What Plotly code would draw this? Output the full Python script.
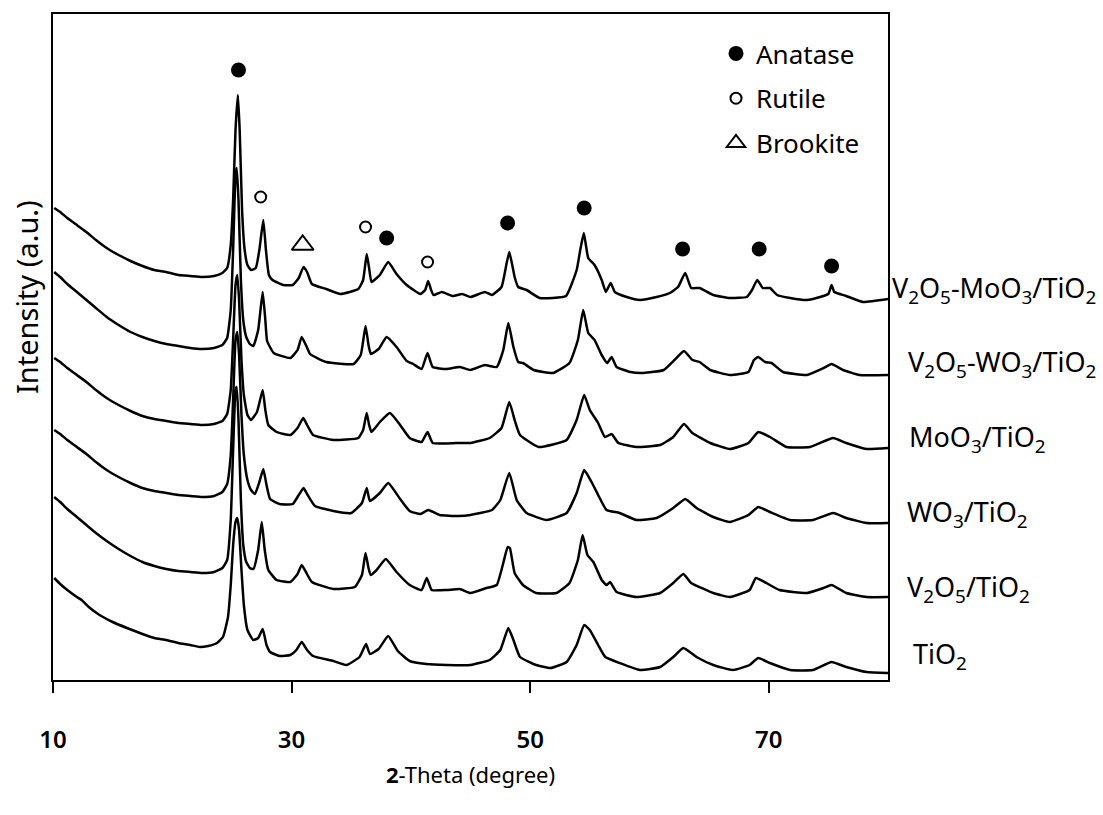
import plotly.graph_objects as go

# ---- data: (2-theta in degrees, stacked intensity a.u.) ----
v2o5_moo3_points = [
    (10.1, 472), (10.6, 468), (11.2, 462), (12.0, 455), (12.8, 448), (13.6, 440), (14.5, 432),
    (15.5, 425), (16.5, 419), (17.5, 414), (18.5, 410), (19.5, 408), (20.5, 405), (21.5, 404),
    (22.5, 403), (23.5, 404), (24.2, 407), (24.6, 412), (24.9, 435), (25.1, 480), (25.3, 550),
    (25.5, 585), (25.65, 550), (25.85, 470), (26.05, 432), (26.3, 415), (26.6, 410), (27.0, 412),
    (27.3, 430), (27.63, 460), (27.85, 430), (28.1, 405), (28.4, 400), (29.3, 395), (30.1, 395),
    (30.6, 402), (31.0, 413), (31.3, 408), (31.7, 396), (32.9, 391), (34.1, 386), (35.6, 391),
    (36.0, 400), (36.3, 426), (36.5, 412), (36.7, 398), (37.4, 405), (38.1, 418), (38.8, 406),
    (39.65, 395), (40.8, 386), (41.2, 390), (41.45, 399), (41.7, 390), (41.9, 385), (42.6, 388),
    (43.5, 384), (44.3, 386), (45.0, 383), (46.2, 388), (46.8, 385), (47.6, 393), (48.0, 415),
    (48.25, 428), (48.5, 415), (48.7, 403), (49.0, 393), (49.7, 390), (50.8, 382), (53.0, 384),
    (53.9, 410), (54.2, 430), (54.5, 447), (54.87, 422), (55.4, 415), (56.0, 400), (56.35, 388),
    (56.75, 397), (57.1, 388), (58.1, 383), (59.2, 380), (60.6, 383), (61.7, 387), (62.4, 393),
    (63.0, 407), (63.5, 392), (64.2, 392), (65.35, 385), (66.75, 382), (68.15, 383), (68.6, 390),
    (69.04, 400), (69.5, 392), (70.1, 392), (70.7, 385), (71.8, 382), (73.2, 380), (74.3, 383),
    (75.0, 386), (75.27, 395), (75.5, 388), (76.5, 384), (77.9, 378), (80.0, 381),
]

v2o5_wo3_points = [
    (10.1, 408), (10.6, 403), (11.2, 396), (12.0, 388), (12.8, 380), (13.6, 372), (14.5, 363),
    (15.5, 355), (16.5, 348), (17.5, 343), (18.5, 339), (19.5, 336), (20.5, 334), (21.5, 332),
    (22.5, 331), (23.5, 332), (24.2, 335), (24.6, 342), (24.9, 370), (25.1, 430), (25.3, 505),
    (25.4, 512), (25.55, 480), (25.75, 400), (25.95, 360), (26.2, 343), (26.5, 336), (26.8, 334),
    (27.2, 350), (27.58, 388), (27.8, 360), (27.95, 339), (28.5, 327), (29.9, 322), (30.5, 330),
    (30.85, 343), (31.2, 335), (31.55, 326), (32.9, 318), (35.2, 316), (35.8, 325), (36.2, 354),
    (36.45, 335), (36.65, 326), (37.3, 331), (37.97, 343), (38.8, 333), (39.65, 319), (40.2, 316),
    (40.9, 311), (41.4, 327), (41.83, 313), (43.0, 311), (44.1, 313), (45.0, 310), (46.2, 315),
    (47.2, 313), (47.75, 330), (48.17, 357), (48.6, 333), (49.0, 318), (49.4, 317), (50.3, 310),
    (51.9, 307), (53.3, 317), (54.0, 340), (54.45, 370), (54.87, 347), (55.4, 340), (56.0, 325),
    (56.46, 317), (56.83, 323), (57.25, 313), (58.4, 308), (59.5, 307), (61.2, 310), (62.1, 320),
    (62.9, 329), (63.6, 320), (64.2, 318), (65.1, 310), (66.75, 305), (68.3, 308), (68.76, 320),
    (69.12, 323), (69.7, 318), (70.24, 317), (71.2, 308), (73.2, 305), (74.6, 312), (75.27, 316),
    (76.24, 310), (77.6, 305), (80.0, 305),
]

moo3_points = [
    (10.1, 322), (10.6, 318), (11.2, 312), (12.0, 305), (12.8, 298), (13.6, 290), (14.5, 282),
    (15.5, 275), (16.5, 269), (17.5, 264), (18.5, 261), (19.5, 259), (20.5, 257), (21.5, 256),
    (22.5, 255), (23.5, 256), (24.2, 259), (24.6, 266), (24.9, 290), (25.1, 340), (25.3, 395),
    (25.45, 405), (25.6, 380), (25.8, 320), (26.0, 285), (26.3, 265), (26.6, 260), (27.1, 268),
    (27.58, 290), (27.8, 270), (28.05, 255), (28.75, 248), (29.9, 245), (30.5, 252), (30.98, 262),
    (31.3, 255), (31.8, 245), (33.5, 240), (35.6, 242), (36.0, 250), (36.3, 267), (36.5, 255),
    (36.7, 248), (37.4, 258), (38.25, 267), (39.1, 255), (39.9, 242), (40.9, 238), (41.4, 248),
    (41.83, 237), (43.8, 237), (45.0, 237), (46.6, 242), (47.6, 252), (48.25, 278), (48.7, 260),
    (49.15, 245), (50.7, 233), (53.06, 240), (53.9, 260), (54.53, 285), (55.0, 270), (55.7, 257),
    (56.27, 243), (56.83, 246), (57.4, 237), (58.9, 233), (60.9, 235), (62.0, 243), (62.9, 256),
    (63.6, 247), (65.1, 237), (66.75, 231), (68.3, 237), (69.12, 248), (70.1, 243), (71.5, 233),
    (73.45, 233), (75.4, 242), (76.5, 237), (78.2, 231), (80.0, 232),
]

wo3_points = [
    (10.1, 250), (10.6, 246), (11.2, 240), (12.0, 233), (12.8, 226), (13.6, 218), (14.5, 210),
    (15.5, 203), (16.5, 197), (17.5, 192), (18.5, 189), (19.5, 187), (20.5, 185), (21.5, 184),
    (22.5, 183), (23.5, 184), (24.2, 188), (24.6, 196), (24.9, 225), (25.1, 280), (25.3, 340),
    (25.45, 348), (25.6, 325), (25.8, 265), (26.0, 225), (26.3, 200), (26.6, 190), (26.93, 186),
    (27.3, 198), (27.63, 211), (27.9, 195), (28.2, 181), (29.0, 176), (30.1, 176), (30.6, 185),
    (31.0, 192), (31.3, 186), (31.96, 174), (33.5, 169), (35.0, 167), (35.9, 177), (36.3, 192),
    (36.57, 179), (37.4, 187), (38.1, 197), (39.1, 181), (39.9, 169), (40.8, 166), (41.46, 170),
    (42.4, 165), (44.0, 164), (45.0, 165), (46.8, 170), (47.5, 180), (48.25, 207), (48.87, 180),
    (49.7, 167), (51.4, 160), (53.06, 167), (53.9, 187), (54.53, 210), (55.15, 198), (55.7, 185),
    (56.4, 170), (57.5, 167), (58.9, 160), (60.6, 162), (62.0, 172), (63.0, 181), (63.95, 172),
    (65.35, 163), (66.75, 158), (68.3, 165), (69.12, 173), (70.1, 168), (71.8, 160), (73.7, 160),
    (75.4, 167), (76.5, 162), (78.2, 157), (80.0, 157),
]

v2o5_points = [
    (10.1, 183), (10.6, 178), (11.2, 171), (12.0, 163), (12.8, 155), (13.6, 147), (14.5, 139),
    (15.5, 131), (16.5, 124), (17.5, 118), (18.5, 114), (19.5, 111), (20.5, 109), (21.5, 108),
    (22.5, 107), (23.5, 108), (24.2, 112), (24.6, 120), (24.9, 160), (25.1, 230), (25.3, 290),
    (25.4, 293), (25.55, 260), (25.75, 180), (25.95, 135), (26.2, 118), (26.5, 112), (26.8, 111),
    (27.2, 130), (27.5, 158), (27.75, 130), (28.05, 110), (28.75, 100), (29.9, 98), (30.5, 106),
    (30.85, 115), (31.2, 108), (31.7, 98), (33.5, 91), (35.3, 93), (35.9, 105), (36.2, 127),
    (36.45, 112), (36.63, 105), (37.13, 110), (37.9, 121), (38.8, 108), (39.9, 95), (40.9, 90),
    (41.33, 102), (41.75, 90), (43.0, 90), (44.1, 91), (45.0, 87), (46.35, 92), (47.2, 95),
    (47.75, 117), (48.11, 133), (48.3, 132), (48.7, 107), (49.4, 95), (50.5, 87), (52.2, 87),
    (53.3, 97), (54.0, 120), (54.4, 145), (54.8, 125), (55.3, 118), (56.0, 100), (56.4, 95),
    (56.7, 98), (57.25, 88), (58.9, 83), (60.9, 87), (62.0, 97), (62.84, 106), (63.5, 97),
    (65.35, 87), (66.75, 83), (68.4, 90), (68.93, 102), (69.8, 97), (70.9, 90), (73.2, 87),
    (74.6, 92), (75.27, 95), (76.5, 87), (78.2, 83), (80.0, 83),
]

tio2_points = [
    (10.1, 102), (10.6, 96), (11.2, 90), (12.0, 83), (12.4, 80), (13.0, 73), (13.9, 65),
    (15.0, 58), (16.2, 52), (17.5, 46), (18.5, 42), (19.5, 40), (20.5, 37), (21.5, 35),
    (22.3, 33), (23.0, 34), (23.75, 37), (24.25, 43), (24.67, 63), (24.9, 95), (25.1, 135),
    (25.3, 158), (25.45, 162), (25.6, 150), (25.8, 110), (26.0, 75), (26.3, 50), (26.79, 40),
    (27.2, 42), (27.58, 51), (27.9, 35), (28.2, 28), (29.0, 24), (29.9, 25), (30.4, 30),
    (30.85, 38), (31.3, 30), (31.8, 24), (33.5, 19), (34.6, 15), (35.7, 23), (36.24, 36),
    (36.57, 26), (37.3, 31), (38.1, 44), (38.9, 29), (39.9, 19), (41.3, 16), (43.0, 15),
    (45.0, 15), (46.6, 20), (47.5, 30), (48.17, 52), (48.6, 40), (49.15, 23), (50.5, 15),
    (51.7, 12), (53.06, 18), (53.9, 35), (54.53, 55), (55.0, 50), (55.7, 35), (56.3, 23),
    (57.5, 17), (59.2, 10), (60.9, 13), (62.0, 23), (62.84, 32), (63.95, 23), (65.35, 15),
    (67.0, 10), (68.4, 15), (69.12, 22), (70.1, 17), (71.8, 10), (73.7, 10), (75.27, 18),
    (76.5, 13), (78.2, 8), (80.0, 7),
]

sample_labels = [
    "V<sub>2</sub>O<sub>5</sub>-MoO<sub>3</sub>/TiO<sub>2</sub>",
    "V<sub>2</sub>O<sub>5</sub>-WO<sub>3</sub>/TiO<sub>2</sub>",
    "MoO<sub>3</sub>/TiO<sub>2</sub>",
    "WO<sub>3</sub>/TiO<sub>2</sub>",
    "V<sub>2</sub>O<sub>5</sub>/TiO<sub>2</sub>",
    "TiO<sub>2</sub>",
]
label_levels = [391, 317, 242, 167, 92, 25]

# phase markers above peaks
anatase_x = [25.55, 37.97, 48.11, 54.53, 62.78, 69.2, 75.27]
anatase_y = [610, 442, 457, 472, 431, 431, 414]
rutile_x = [27.41, 36.2, 41.4]
rutile_y = [483, 453, 418]
brookite_x = [30.93]
brookite_y = [435]

x_ticks = [10, 30, 50, 70]

# ---- figure ----
FONT = "Noto Sans"
fig = go.Figure()

series = [v2o5_moo3_points, v2o5_wo3_points, moo3_points, wo3_points, v2o5_points, tio2_points]
for pts, name in zip(series, sample_labels):
    xs = [p[0] for p in pts]
    ys = [p[1] for p in pts]
    fig.add_trace(go.Scatter(x=xs, y=ys, mode="lines", name=name, showlegend=False,
                             line=dict(color="black", width=2.5, shape="spline", smoothing=0.4),
                             hoverinfo="skip"))

fig.add_trace(go.Scatter(x=anatase_x, y=anatase_y, mode="markers", name="Anatase",
                         legendgroup="a",
                         marker=dict(symbol="circle", size=15, color="black")))
fig.add_trace(go.Scatter(x=rutile_x, y=rutile_y, mode="markers", name="Rutile",
                         legendgroup="r",
                         marker=dict(symbol="circle-open", size=11, color="black",
                                     line=dict(width=2, color="black"))))
fig.add_trace(go.Scatter(x=brookite_x, y=brookite_y, mode="markers", name="Brookite",
                         legendgroup="b",
                         marker=dict(symbol="triangle-up-open", size=19, color="black",
                                     line=dict(width=2, color="black"))))

label_x_px = [890, 906, 907, 905, 905, 911]
annotations = []
for lab, lev, px in zip(sample_labels, label_levels, label_x_px):
    annotations.append(dict(text=lab, x=(px - 53) / 835, xref="paper", y=lev, yref="y",
                            xanchor="left", yanchor="middle", showarrow=False,
                            font=dict(family=FONT, size=27, color="black")))
annotations.append(dict(text="Intensity (a.u.)", x=(26 - 53) / 835, xref="paper",
                        y=(680 - 297) / 666, yref="paper", textangle=-90,
                        xanchor="center", yanchor="middle", showarrow=False,
                        font=dict(family=FONT, size=29, color="black")))

fig.update_layout(
    width=1103, height=815,
    margin=dict(l=53, r=215, t=14, b=135),
    paper_bgcolor="white", plot_bgcolor="white",
    font=dict(family=FONT, color="black"),
    showlegend=True,
    legend=dict(x=(716 - 53) / 835, xanchor="left", y=(680 - 30) / 666, yanchor="top",
                font=dict(family=FONT, size=26, color="black"),
                bgcolor="rgba(0,0,0,0)", tracegroupgap=8, traceorder="grouped"),
    annotations=annotations,
    xaxis=dict(range=[10, 80], tickvals=x_ticks, ticktext=[str(t) for t in x_ticks],
               ticks="outside", ticklen=11, tickwidth=2, tickcolor="black",
               showline=True, linecolor="black", linewidth=2, mirror=True,
               showgrid=False, zeroline=False, ticklabelstandoff=26,
               tickfont=dict(family=FONT, size=24, color="black", weight=600),
               title=dict(text="<b>2</b>-Theta (degree)", standoff=14,
                          font=dict(family=FONT, size=22, color="black"))),
    yaxis=dict(range=[0, 666], showticklabels=False, ticks="",
               showline=True, linecolor="black", linewidth=2, mirror=True,
               showgrid=False, zeroline=False),
)

fig.write_html("out.html")
